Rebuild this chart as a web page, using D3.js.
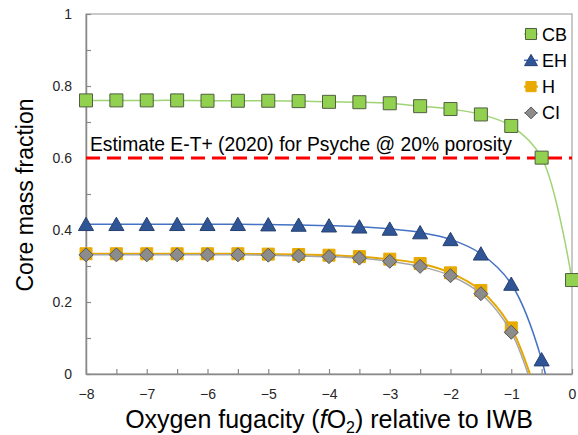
<!DOCTYPE html>
<html>
<head>
<meta charset="utf-8">
<script src="https://cdn.jsdelivr.net/npm/d3@7"></script>
<style>
  body { margin: 0; background: #fff; }
  svg { font-family: Arial, "Liberation Sans", sans-serif; }
</style>
</head>
<body>
<div id="chart"></div>
<script>
let width = 578,
    height = 435,
    margin = { top: 14, right: 6, bottom: 61, left: 86 }

// oxygen fugacity, relative to IWB
let fo2 = [-8, -7.5, -7, -6.5, -6, -5.5, -5, -4.5, -4, -3.5, -3, -2.5, -2, -1.5, -1, -0.5, 0]

// core mass fraction per chondrite group (null = not reported)
let cb = [0.760, 0.760, 0.760, 0.760, 0.759, 0.759, 0.759, 0.758, 0.756, 0.755, 0.752, 0.744, 0.736, 0.721, 0.689, 0.601, 0.261]
let eh = [0.416, 0.416, 0.416, 0.416, 0.416, 0.416, 0.415, 0.414, 0.412, 0.409, 0.403, 0.393, 0.374, 0.334, 0.250, 0.040, -0.40]
let h  = [0.334, 0.334, 0.334, 0.334, 0.334, 0.334, 0.333, 0.332, 0.330, 0.326, 0.319, 0.307, 0.281, 0.232, 0.128, -0.10, null]
let ci = [0.331, 0.331, 0.331, 0.331, 0.331, 0.331, 0.330, 0.328, 0.326, 0.322, 0.313, 0.299, 0.273, 0.223, 0.116, -0.12, null]

let seriesNames = ["CB", "EH", "H", "CI"]
let psycheEstimate = 0.6
let psycheLabel = "Estimate E-T+ (2020) for Psyche @ 20% porosity"

let xTicks = [-8, -7.5, -7, -6.5, -6, -5.5, -5, -4.5, -4, -3.5, -3, -2.5, -2, -1.5, -1, -0.5, 0]
let yTicks = [0, 0.1, 0.2, 0.3, 0.4, 0.5, 0.6, 0.7, 0.8, 0.9, 1]

// looks per series
let styles = {
  CB: { line: "#9fd474", lw: 1.5, fill: "#92d050", stroke: "#4f5f40", shape: "square", size: 13 },
  EH: { line: "#4472c4", lw: 1.5, fill: "#2f5597", stroke: "#27406e", shape: "triangle", size: 14 },
  H:  { line: "#e6a800", lw: 2,   fill: "#e8aa00", stroke: "#e8aa00", shape: "square", size: 12 },
  CI: { line: "#a6a6a6", lw: 1.5, fill: "#8c8c8c", stroke: "#595959", shape: "diamond", size: 14 }
}
let seriesValues = { CB: cb, EH: eh, H: h, CI: ci }

let svg = d3.select("#chart").append("svg")
  .attr("width", width)
  .attr("height", height)

let x = d3.scaleLinear()
  .domain([-8, 0])
  .range([margin.left, width - margin.right])

let y = d3.scaleLinear()
  .domain([0, 1])
  .range([height - margin.bottom, margin.top])

svg.append("defs").append("clipPath")
  .attr("id", "plot-clip")
  .append("rect")
  .attr("x", x(-8)).attr("y", y(1))
  .attr("width", x(0) - x(-8)).attr("height", y(0) - y(1))

// plot frame
svg.append("rect")
  .attr("x", x(-8)).attr("y", y(1))
  .attr("width", x(0) - x(-8)).attr("height", y(0) - y(1))
  .attr("fill", "none")
  .attr("stroke", "#a6a6a6")
  .attr("stroke-width", 1.2)

// axes, ticks point into the plot
let xAxis = d3.axisBottom(x)
  .tickValues(xTicks)
  .tickSizeInner(-5)
  .tickSizeOuter(0)
  .tickPadding(15)
  .tickFormat(d => Number.isInteger(d) ? d3.format("d")(d) : "")

let yAxis = d3.axisLeft(y)
  .tickValues(yTicks)
  .tickSizeInner(-5)
  .tickSizeOuter(0)
  .tickPadding(14)
  .tickFormat(d => Math.round(d * 10) % 2 === 0 ? d3.format("~g")(d) : "")

let gx = svg.append("g")
  .attr("transform", `translate(0,${y(0)})`)
  .call(xAxis)
let gy = svg.append("g")
  .attr("transform", `translate(${x(-8)},0)`)
  .call(yAxis)

;[gx, gy].forEach(g => {
  g.select(".domain").attr("stroke", "#8a8a8a").attr("stroke-width", 1.5)
  g.selectAll(".tick line").attr("stroke", "#8a8a8a").attr("stroke-width", 1.2)
  g.selectAll("text")
    .attr("fill", "#262626")
    .style("font-size", "14px")
})
gx.selectAll("text").attr("dy", "0.71em")

// Psyche estimate
svg.append("line")
  .attr("x1", x(-8)).attr("x2", x(0))
  .attr("y1", y(psycheEstimate)).attr("y2", y(psycheEstimate))
  .attr("stroke", "#ff0000")
  .attr("stroke-width", 3)
  .attr("stroke-dasharray", "14,7")

svg.append("text")
  .attr("x", 90)
  .attr("y", y(psycheEstimate) - 7)
  .style("font-size", "19.3px")
  .attr("fill", "#000")
  .text(psycheLabel)

// smoothed lines like the spreadsheet
let line = d3.line()
  .x(d => x(d[0]))
  .y(d => y(d[1]))
  .curve(d3.curveCatmullRom.alpha(0.5))

function markerPath(shape, s) {
  let r = s / 2
  if (shape === "square") return `M${-r},${-r}h${s}v${s}h${-s}Z`
  if (shape === "diamond") return `M0,${-r}L${r},0L0,${r}L${-r},0Z`
  // triangle, box centred on the point
  return `M0,${-r}L${r * 1.08},${r * 0.9}L${-r * 1.08},${r * 0.9}Z`
}

seriesNames.forEach(name => {
  let st = styles[name]
  let pts = fo2.map((f, i) => [f, seriesValues[name][i]]).filter(d => d[1] !== null)

  svg.append("path")
    .datum(pts)
    .attr("clip-path", "url(#plot-clip)")
    .attr("fill", "none")
    .attr("stroke", st.line)
    .attr("stroke-width", st.lw)
    .attr("d", line)

  svg.append("g").selectAll("path")
    .data(pts.filter(d => d[1] >= 0))
    .enter().append("path")
    .attr("transform", d => `translate(${x(d[0])},${y(d[1])})`)
    .attr("d", markerPath(st.shape, st.size))
    .attr("fill", st.fill)
    .attr("stroke", st.stroke)
    .attr("stroke-width", 1)
})

// legend
let legend = svg.append("g")
  .attr("transform", "translate(531,34)")

seriesNames.forEach((name, i) => {
  let st = styles[name]
  let row = legend.append("g").attr("transform", `translate(0,${i * 26.3})`)
  row.append("line")
    .attr("x1", -7).attr("x2", 7)
    .attr("stroke", st.line)
    .attr("stroke-width", st.lw)
  row.append("path")
    .attr("d", markerPath(st.shape, st.size * 0.85))
    .attr("fill", st.fill)
    .attr("stroke", st.stroke)
    .attr("stroke-width", 1)
  row.append("text")
    .attr("x", 11)
    .attr("y", 6.5)
    .style("font-size", "18px")
    .text(name)
})

// axis titles
svg.append("text")
  .attr("transform", `translate(33,${(y(0) + y(1)) / 2 + 1}) rotate(-90)`)
  .attr("text-anchor", "middle")
  .style("font-size", "23px")
  .text("Core mass fraction")

let xt = svg.append("text")
  .attr("x", (x(-8) + x(0)) / 2)
  .attr("y", 428)
  .attr("text-anchor", "middle")
  .style("font-size", "25px")
xt.append("tspan").text("Oxygen fugacity (")
xt.append("tspan").style("font-style", "italic").text("f")
xt.append("tspan").text("O")
xt.append("tspan").attr("dy", 5).style("font-size", "16px").text("2")
xt.append("tspan").attr("dy", -5).text(") relative to IWB")
</script>
</body>
</html>
